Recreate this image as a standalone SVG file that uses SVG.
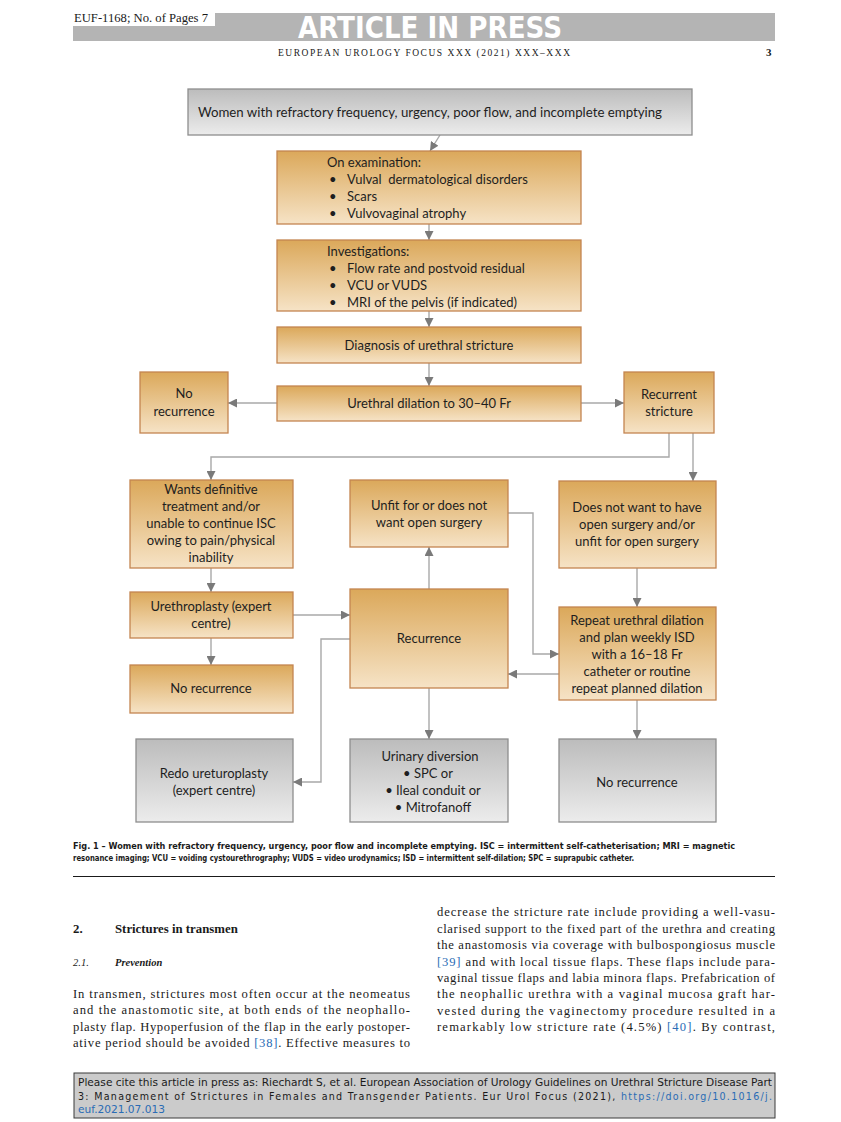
<svg xmlns="http://www.w3.org/2000/svg" width="841" height="1122" viewBox="0 0 841 1122">
<defs>
<linearGradient id="og" x1="0" y1="0" x2="0" y2="1"><stop offset="0" stop-color="#dba85a"/><stop offset="1" stop-color="#f6e3c6"/></linearGradient>
<linearGradient id="gg" x1="0" y1="0" x2="0" y2="1"><stop offset="0" stop-color="#bcbcbc"/><stop offset="1" stop-color="#ececec"/></linearGradient>
<marker id="ah" viewBox="0 0 10 10" refX="10" refY="5" markerWidth="9" markerHeight="9" markerUnits="userSpaceOnUse" orient="auto"><path d="M0,0 L10,5 L0,10 z" fill="#7a7a7a"/></marker>
<style>
.ob{fill:url(#og);stroke:#c48550;stroke-width:1.3}
.gb{fill:url(#gg);stroke:#8e8e8e;stroke-width:1.3}
.t{font-family:Lato,"Liberation Sans",sans-serif;font-size:13px;fill:#1e1e1e}
.c{text-anchor:middle}
.cn path,.cn line{fill:none;stroke:#a8a8a8;stroke-width:1.4;marker-end:url(#ah)}
.body{font-family:"Liberation Serif",serif;font-size:12.6px;fill:#1a1a1a}
.cap{font-family:"DejaVu Sans Condensed","Liberation Sans",sans-serif;font-stretch:condensed;font-weight:bold;font-size:8.6px;fill:#1a1a1a}
.ft{font-family:"DejaVu Sans Condensed","Liberation Sans",sans-serif;font-stretch:condensed;font-size:10.6px;fill:#1a1a1a}
.lk{fill:#2a6cb5}
</style>
</defs>
<rect width="841" height="1122" fill="#ffffff"/>
<g id="header">
<rect x="73" y="13" width="702" height="28" fill="#b4b4b4"/>
<rect x="73" y="9" width="142" height="17" fill="#ffffff"/>
<text x="74" y="22" font-family="Liberation Serif,serif" font-size="12" fill="#1a1a1a" textLength="134" lengthAdjust="spacingAndGlyphs">EUF-1168; No. of Pages 7</text>
<text x="298" y="38" font-family="DejaVu Sans Condensed,Liberation Sans,sans-serif" font-weight="bold" font-size="31" fill="#ffffff" textLength="264" lengthAdjust="spacingAndGlyphs">ARTICLE IN PRESS</text>
<text x="278" y="56" font-family="Liberation Serif,serif" font-size="9.5" fill="#1a1a1a" textLength="292" lengthAdjust="spacing">EUROPEAN UROLOGY FOCUS XXX (2021) XXX–XXX</text>
<text x="766" y="56" font-family="Liberation Serif,serif" font-weight="bold" font-size="11" fill="#1a1a1a">3</text>
</g>
<g id="connectors" class="cn">
<line x1="440" y1="135" x2="430" y2="151"/>
<line x1="429" y1="224" x2="429" y2="240"/>
<line x1="429" y1="311" x2="429" y2="327"/>
<line x1="429" y1="363" x2="429" y2="386"/>
<line x1="277" y1="403" x2="228" y2="403"/>
<line x1="581" y1="403" x2="624" y2="403"/>
<path d="M669,433 V457 H211 V480"/>
<line x1="693" y1="433" x2="693" y2="481"/>
<line x1="211" y1="568" x2="211" y2="592"/>
<line x1="293" y1="615" x2="350" y2="615"/>
<line x1="211" y1="638" x2="211" y2="665"/>
<line x1="429" y1="589" x2="429" y2="547"/>
<path d="M508,513 H533 V654 H559"/>
<line x1="637" y1="568" x2="637" y2="607"/>
<line x1="559" y1="674" x2="508" y2="674"/>
<path d="M350,639 H321 V782 H293"/>
<line x1="429" y1="688" x2="429" y2="739"/>
<line x1="637" y1="700" x2="637" y2="739"/>
</g>
<g id="n-top"><rect class="gb" x="188" y="89" width="504" height="46"/>
<text class="t" x="198" y="117" textLength="464" lengthAdjust="spacingAndGlyphs">Women with refractory frequency, urgency, poor flow, and incomplete emptying</text></g>
<g id="n-exam"><rect class="ob" x="277" y="151" width="304" height="73"/>
<text class="t" x="327" y="167">On examination:</text>
<text class="t" x="329" y="184">•</text><text class="t" x="347" y="184">Vulval&#160; dermatological disorders</text>
<text class="t" x="329" y="201">•</text><text class="t" x="347" y="201">Scars</text>
<text class="t" x="329" y="218">•</text><text class="t" x="347" y="218">Vulvovaginal atrophy</text></g>
<g id="n-inv"><rect class="ob" x="277" y="240" width="304" height="71"/>
<text class="t" x="327" y="256">Investigations:</text>
<text class="t" x="329" y="273">•</text><text class="t" x="347" y="273">Flow rate and postvoid residual</text>
<text class="t" x="329" y="290">•</text><text class="t" x="347" y="290">VCU or VUDS</text>
<text class="t" x="329" y="307">•</text><text class="t" x="347" y="307">MRI of the pelvis (if indicated)</text></g>
<g id="n-diag"><rect class="ob" x="277" y="327" width="304" height="36"/>
<text class="t c" x="429" y="350">Diagnosis of urethral stricture</text></g>
<g id="n-dil"><rect class="ob" x="277" y="386" width="304" height="35"/>
<text class="t c" x="429" y="408">Urethral dilation to 30–40 Fr</text></g>
<g id="n-norec1"><rect class="ob" x="140" y="372" width="88" height="61"/>
<text class="t c" x="184" y="398">No</text><text class="t c" x="184" y="416">recurrence</text></g>
<g id="n-recstr"><rect class="ob" x="624" y="372" width="90" height="61"/>
<text class="t c" x="669" y="399">Recurrent</text><text class="t c" x="669" y="416">stricture</text></g>
<g id="n-wants"><rect class="ob" x="130" y="480" width="163" height="88"/>
<text class="t c" x="211" y="494">Wants definitive</text>
<text class="t c" x="211" y="511">treatment and/or</text>
<text class="t c" x="211" y="528">unable to continue ISC</text>
<text class="t c" x="211" y="545">owing to pain/physical</text>
<text class="t c" x="211" y="562">inability</text></g>
<g id="n-unfit"><rect class="ob" x="350" y="480" width="158" height="67"/>
<text class="t c" x="429" y="510">Unfit for or does not</text>
<text class="t c" x="429" y="527">want open surgery</text></g>
<g id="n-doesnot"><rect class="ob" x="559" y="481" width="157" height="87"/>
<text class="t c" x="637" y="512">Does not want to have</text>
<text class="t c" x="637" y="529">open surgery and/or</text>
<text class="t c" x="637" y="546">unfit for open surgery</text></g>
<g id="n-urethroplasty"><rect class="ob" x="130" y="592" width="163" height="46"/>
<text class="t c" x="211" y="611">Urethroplasty (expert</text>
<text class="t c" x="211" y="628">centre)</text></g>
<g id="n-recurrence"><rect class="ob" x="350" y="589" width="158" height="99"/>
<text class="t c" x="429" y="643">Recurrence</text></g>
<g id="n-repeat"><rect class="ob" x="559" y="607" width="157" height="93"/>
<text class="t c" x="637" y="625">Repeat urethral dilation</text>
<text class="t c" x="637" y="642">and plan weekly ISD</text>
<text class="t c" x="637" y="659">with a 16–18 Fr</text>
<text class="t c" x="637" y="676">catheter or routine</text>
<text class="t c" x="637" y="693">repeat planned dilation</text></g>
<g id="n-norec2"><rect class="ob" x="130" y="665" width="163" height="48"/>
<text class="t c" x="211" y="693">No recurrence</text></g>
<g id="n-redo"><rect class="gb" x="136" y="739" width="157" height="83"/>
<text class="t c" x="214" y="778">Redo ureturoplasty</text>
<text class="t c" x="214" y="795">(expert centre)</text></g>
<g id="n-urinary"><rect class="gb" x="350" y="739" width="158" height="83"/>
<text class="t c" x="430" y="761">Urinary diversion</text>
<text class="t c" x="428" y="778">• SPC or</text>
<text class="t c" x="433" y="795">• Ileal conduit or</text>
<text class="t c" x="433" y="812">• Mitrofanoff</text></g>
<g id="n-norec3"><rect class="gb" x="559" y="739" width="157" height="83"/>
<text class="t c" x="637" y="787">No recurrence</text></g>
<g id="caption">
<text class="cap" x="73" y="849" textLength="662" lengthAdjust="spacingAndGlyphs">Fig. 1 – Women with refractory frequency, urgency, poor flow and incomplete emptying. ISC = intermittent self-catheterisation; MRI = magnetic</text>
<text class="cap" x="73" y="861" textLength="561" lengthAdjust="spacingAndGlyphs">resonance imaging; VCU = voiding cystourethrography; VUDS = video urodynamics; ISD = intermittent self-dilation; SPC = suprapubic catheter.</text>
<line x1="73" y1="876.5" x2="775" y2="876.5" stroke="#1a1a1a" stroke-width="1"/>
</g>
<g id="text-left">
<text x="73" y="933" font-family="Liberation Serif,serif" font-weight="bold" font-size="12.8" fill="#1a1a1a">2.</text>
<text x="115" y="933" font-family="Liberation Serif,serif" font-weight="bold" font-size="12.8" fill="#1a1a1a">Strictures in transmen</text>
<text x="73" y="966" font-family="Liberation Serif,serif" font-style="italic" font-size="10.5" fill="#1a1a1a">2.1.</text>
<text x="115" y="966" font-family="Liberation Serif,serif" font-style="italic" font-weight="bold" font-size="10.5" fill="#1a1a1a">Prevention</text>
<text class="body" x="73" y="998" textLength="337" lengthAdjust="spacing">In transmen, strictures most often occur at the neomeatus</text>
<text class="body" x="73" y="1014" textLength="337" lengthAdjust="spacing">and the anastomotic site, at both ends of the neophallo-</text>
<text class="body" x="73" y="1031" textLength="337" lengthAdjust="spacing">plasty flap. Hypoperfusion of the flap in the early postoper-</text>
<text class="body" x="73" y="1047" textLength="337" lengthAdjust="spacing">ative period should be avoided <tspan class="lk">[38]</tspan>. Effective measures to</text>
</g>
<g id="text-right">
<text class="body" x="437" y="916" textLength="338" lengthAdjust="spacing">decrease the stricture rate include providing a well-vasu-</text>
<text class="body" x="437" y="932.5" textLength="338" lengthAdjust="spacing">clarised support to the fixed part of the urethra and creating</text>
<text class="body" x="437" y="949" textLength="338" lengthAdjust="spacing">the anastomosis via coverage with bulbospongiosus muscle</text>
<text class="body" x="437" y="965.5" textLength="338" lengthAdjust="spacing"><tspan class="lk">[39]</tspan> and with local tissue flaps. These flaps include para-</text>
<text class="body" x="437" y="982" textLength="338" lengthAdjust="spacing">vaginal tissue flaps and labia minora flaps. Prefabrication of</text>
<text class="body" x="437" y="998" textLength="338" lengthAdjust="spacing">the neophallic urethra with a vaginal mucosa graft har-</text>
<text class="body" x="437" y="1014.5" textLength="338" lengthAdjust="spacing">vested during the vaginectomy procedure resulted in a</text>
<text class="body" x="437" y="1031" textLength="338" lengthAdjust="spacing">remarkably low stricture rate (4.5%) <tspan class="lk">[40]</tspan>. By contrast,</text>
</g>
<g id="footer">
<rect x="74" y="1073" width="701" height="45" fill="#cbcbcb" stroke="#3a3a3a" stroke-width="1"/>
<text class="ft" x="78" y="1085.5" textLength="694" lengthAdjust="spacingAndGlyphs">Please cite this article in press as: Riechardt S, et al. European Association of Urology Guidelines on Urethral Stricture Disease Part</text>
<text class="ft" x="78" y="1099.5" textLength="694" lengthAdjust="spacing">3: Management of Strictures in Females and Transgender Patients. Eur Urol Focus (2021), <tspan class="lk">https://doi.org/10.1016/j.</tspan></text>
<text class="ft lk" x="78" y="1113" textLength="87" lengthAdjust="spacingAndGlyphs">euf.2021.07.013</text>
</g>
</svg>
